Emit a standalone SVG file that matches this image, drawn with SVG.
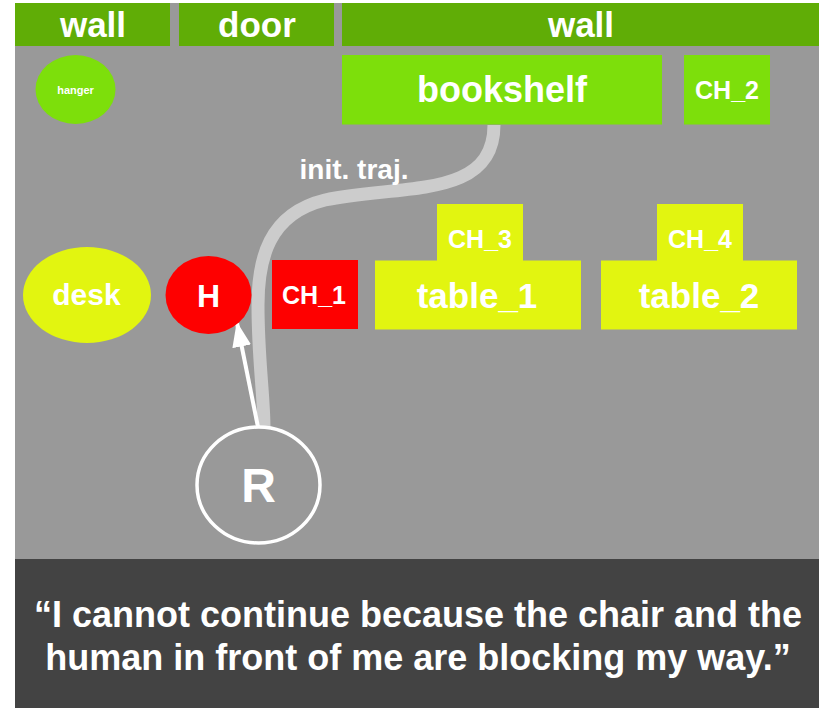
<svg xmlns="http://www.w3.org/2000/svg" width="819" height="708" viewBox="0 0 819 708">
<style>
text{font-family:"Liberation Sans",Arial,sans-serif;font-weight:700;fill:#fff;text-anchor:middle}
.wall{fill:#60ad06}.green{fill:#7ddf0b}.yellow{fill:#e2f510}.red{fill:#fe0000}
</style>
<defs><marker id="arrow" viewBox="0 0 10 10" preserveAspectRatio="none" refX="9.500" refY="5" markerUnits="userSpaceOnUse" markerWidth="25" markerHeight="19" orient="auto"><path d="M0 0L10 5L0 10Z" fill="#fff"/></marker></defs>
<rect width="819" height="708" fill="#fff"/>
<rect x="15" y="3" width="804" height="556" fill="#999"/>
<rect x="15" y="559" width="804" height="149" fill="#434343"/>
<g id="wall-left"><rect class="wall" x="15" y="3" width="155" height="43"/><text x="93" y="37" font-size="35">wall</text></g>
<g id="door"><rect class="wall" x="179" y="3" width="155" height="43"/><text x="257" y="37" font-size="35">door</text></g>
<g id="wall-right"><rect class="wall" x="342" y="3" width="477" height="43"/><text x="581" y="37" font-size="35">wall</text></g>
<g id="hanger"><ellipse class="green" cx="75.500" cy="89.500" rx="40" ry="34.500"/><text x="75.500" y="94" font-size="11">hanger</text></g>
<g id="bookshelf"><rect class="green" x="342" y="55" width="320" height="69.500"/><text x="502" y="102" font-size="36">bookshelf</text></g>
<g id="CH_2"><rect class="green" x="684" y="55" width="86" height="69.500"/><text x="727" y="99" font-size="25">CH_2</text></g>
<g id="connectors" fill="none">
<path d="M494 125C494 200 400 184 325 200C268 214 258 260 258 305C258 360 264 395 264 429" stroke="#ccc" stroke-width="13"/>
<line x1="258" y1="427" x2="237" y2="323" stroke="#fff" stroke-width="4" marker-end="url(#arrow)"/>
</g>
<text x="354" y="179" font-size="28">init. traj.</text>
<g id="desk"><ellipse class="yellow" cx="87" cy="295" rx="64" ry="48"/><text x="86.500" y="305" font-size="30">desk</text></g>
<g id="H"><ellipse class="red" cx="208.500" cy="295" rx="43" ry="39"/><text x="208.500" y="307" font-size="32">H</text></g>
<g id="CH_1"><rect class="red" x="272" y="260" width="86" height="69"/><text x="314" y="304" font-size="25">CH_1</text></g>
<g id="CH_3"><rect class="yellow" x="437" y="204" width="86" height="57"/><text x="480" y="248" font-size="25">CH_3</text></g>
<g id="table_1"><rect class="yellow" x="375" y="260.500" width="206" height="69"/><text x="477" y="308" font-size="35">table_1</text></g>
<g id="CH_4"><rect class="yellow" x="657" y="204" width="86" height="57"/><text x="700" y="248" font-size="25">CH_4</text></g>
<g id="table_2"><rect class="yellow" x="601" y="260.500" width="196" height="69"/><text x="699" y="308" font-size="35">table_2</text></g>
<g id="R"><ellipse cx="258.500" cy="485" rx="61.500" ry="58" fill="#999" stroke="#fff" stroke-width="3.500"/><text x="258.500" y="502" font-size="48">R</text></g>
<g id="caption"><text x="418" y="627" font-size="36">“I cannot continue because the chair and the</text><text x="418" y="670" font-size="36">human in front of me are blocking my way.”</text></g>
</svg>
